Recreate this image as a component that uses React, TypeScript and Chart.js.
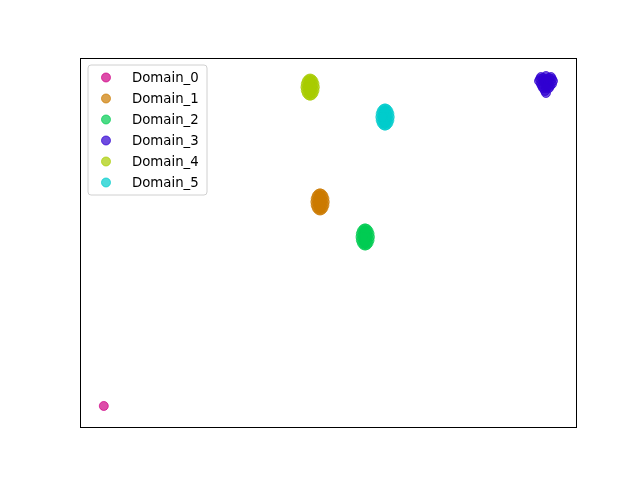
import React, { useEffect, useRef } from "react";
import { Chart, registerables } from "chart.js";

Chart.register(...registerables);

const domainLabels = ["Domain_0", "Domain_1", "Domain_2", "Domain_3", "Domain_4", "Domain_5"];
const domainColors = [
  [206, 0, 132],
  [204, 122, 0],
  [0, 204, 82],
  [48, 0, 210],
  [168, 204, 0],
  [0, 204, 204],
];

const d0x = [4.8];
const d0y = [5.7];

const d1x = [49.35, 49.28, 49.07, 48.76, 48.4, 48.04, 47.73, 47.52, 47.45, 47.52, 47.73, 48.04, 48.4, 48.76, 49.07, 49.28, 48.4, 48.8, 48.0, 48.8, 48.0, 48.4, 48.4, 48.9, 47.9];
const d1y = [61.0, 61.9, 62.66, 63.17, 63.35, 63.17, 62.66, 61.9, 61.0, 60.1, 59.34, 58.83, 58.65, 58.83, 59.34, 60.1, 61.0, 62.0, 62.0, 60.0, 60.0, 62.8, 59.2, 61.0, 61.0];

const d2x = [58.45, 58.38, 58.17, 57.86, 57.5, 57.14, 56.83, 56.62, 56.55, 56.62, 56.83, 57.14, 57.5, 57.86, 58.17, 58.38, 57.5, 57.9, 57.1, 57.9, 57.1, 57.5, 57.5, 58.0, 57.0];
const d2y = [51.5, 52.4, 53.16, 53.67, 53.85, 53.67, 53.16, 52.4, 51.5, 50.6, 49.84, 49.33, 49.15, 49.33, 49.84, 50.6, 51.5, 52.5, 52.5, 50.5, 50.5, 53.3, 49.7, 51.5, 51.5];

const d3x = [92.94, 93.95, 94.96, 92.54, 93.75, 95.36, 92.94, 94.15, 95.16, 93.35, 94.56, 93.75, 94.35, 93.55, 93.35, 94.56, 93.15, 94.76, 93.95, 94.15, 93.95, 92.74, 95.16];
const d3y = [94.85, 95.12, 94.85, 93.77, 94.04, 93.77, 92.96, 92.96, 92.96, 91.87, 91.87, 91.06, 92.41, 93.5, 94.58, 94.58, 92.41, 92.41, 91.87, 94.31, 90.51, 94.31, 94.31];

const d4x = [47.35, 47.28, 47.07, 46.76, 46.4, 46.04, 45.73, 45.52, 45.45, 45.52, 45.73, 46.04, 46.4, 46.76, 47.07, 47.28, 46.4, 46.8, 46.0, 46.8, 46.0, 46.4, 46.4, 46.9, 45.9];
const d4y = [92.1, 93.0, 93.76, 94.27, 94.45, 94.27, 93.76, 93.0, 92.1, 91.2, 90.44, 89.93, 89.75, 89.93, 90.44, 91.2, 92.1, 93.1, 93.1, 91.1, 91.1, 93.9, 90.3, 92.1, 92.1];

const d5x = [62.45, 62.38, 62.17, 61.86, 61.5, 61.14, 60.83, 60.62, 60.55, 60.62, 60.83, 61.14, 61.5, 61.86, 62.17, 62.38, 61.5, 61.9, 61.1, 61.9, 61.1, 61.5, 61.5, 62.0, 61.0];
const d5y = [84.0, 84.9, 85.66, 86.17, 86.35, 86.17, 85.66, 84.9, 84.0, 83.1, 82.34, 81.83, 81.65, 81.83, 82.34, 83.1, 84.0, 85.0, 85.0, 83.0, 83.0, 85.8, 82.2, 84.0, 84.0];

const seriesX = [d0x, d1x, d2x, d3x, d4x, d5x];
const seriesY = [d0y, d1y, d2y, d3y, d4y, d5y];

const rgba = (c: number[], a: number) => `rgba(${c[0]},${c[1]},${c[2]},${a})`;

const framePlugin = {
  id: "frame",
  afterDraw(chart: any) {
    const { ctx, chartArea } = chart;
    ctx.save();
    ctx.strokeStyle = "#000";
    ctx.lineWidth = 1;
    ctx.strokeRect(
      Math.round(chartArea.left) + 0.5,
      Math.round(chartArea.top) + 0.5,
      Math.round(chartArea.right - chartArea.left),
      Math.round(chartArea.bottom - chartArea.top)
    );
    ctx.restore();
  },
};

const legendPlugin = {
  id: "mplLegend",
  afterDraw(chart: any) {
    const { ctx, chartArea } = chart;
    const x0 = chartArea.left + 8;
    const y0 = chartArea.top + 7;
    const w = 119;
    const h = 130;
    const r = 3;
    ctx.save();
    ctx.beginPath();
    ctx.moveTo(x0 + r, y0);
    ctx.lineTo(x0 + w - r, y0);
    ctx.arcTo(x0 + w, y0, x0 + w, y0 + r, r);
    ctx.lineTo(x0 + w, y0 + h - r);
    ctx.arcTo(x0 + w, y0 + h, x0 + w - r, y0 + h, r);
    ctx.lineTo(x0 + r, y0 + h);
    ctx.arcTo(x0, y0 + h, x0, y0 + h - r, r);
    ctx.lineTo(x0, y0 + r);
    ctx.arcTo(x0, y0, x0 + r, y0, r);
    ctx.closePath();
    ctx.fillStyle = "rgba(255,255,255,0.8)";
    ctx.fill();
    ctx.strokeStyle = "#d0d0d0";
    ctx.lineWidth = 1;
    ctx.stroke();
    ctx.font = '13.3px "DejaVu Sans"';
    ctx.textBaseline = "middle";
    ctx.textAlign = "left";
    chart.data.datasets.forEach((ds: any, i: number) => {
      const cy = y0 + 12.5 + i * 21;
      ctx.beginPath();
      ctx.arc(x0 + 18, cy, 4.5, 0, Math.PI * 2);
      ctx.fillStyle = ds.backgroundColor;
      ctx.fill();
      ctx.strokeStyle = ds.borderColor;
      ctx.lineWidth = 1;
      ctx.stroke();
      ctx.fillStyle = "#000";
      ctx.fillText(ds.label, x0 + 44, cy + 1.5);
    });
    ctx.restore();
  },
};

export default function App() {
  const ref = useRef<HTMLCanvasElement | null>(null);
  useEffect(() => {
    if (!ref.current) return;
    const datasets = domainLabels.map((label, i) => ({
      label,
      data: seriesX[i].map((x, j) => ({ x, y: seriesY[i][j] })),
      backgroundColor: rgba(domainColors[i], 0.7),
      borderColor: rgba(domainColors[i], 0.7),
      borderWidth: 1,
      pointRadius: 4.5,
      pointHoverRadius: 4.5,
    }));
    const chart = new Chart(ref.current, {
      type: "scatter",
      data: { datasets },
      options: {
        animation: false,
        responsive: false,
        devicePixelRatio: 1,
        layout: { padding: { left: 80, right: 64, top: 58, bottom: 53 } },
        scales: {
          x: { type: "linear", min: 0, max: 100, display: false },
          y: { type: "linear", min: 0, max: 100, display: false },
        },
        plugins: {
          legend: { display: false },
          tooltip: { enabled: false },
        },
      },
      plugins: [framePlugin, legendPlugin],
    });
    return () => chart.destroy();
  }, []);
  return (
    <div style={{ position: "fixed", left: 0, top: 0, width: 640, height: 480, background: "#fff" }}>
      <canvas ref={ref} width={640} height={480} style={{ width: 640, height: 480 }} />
    </div>
  );
}
